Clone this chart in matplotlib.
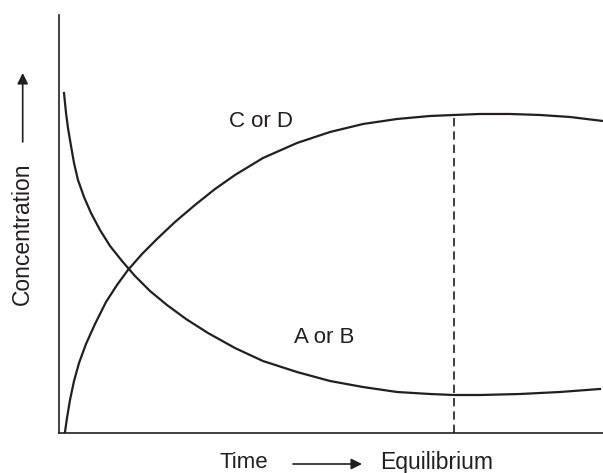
import numpy as np
import matplotlib
matplotlib.use("Agg")
import matplotlib.pyplot as plt

plt.rcParams['font.family'] = ['Liberation Sans', 'DejaVu Sans']

# curve points (time and concentration in % of the axes)
t_cd = [1.10, 1.47, 2.02, 2.76, 3.68, 4.96, 6.62, 8.64, 10.66, 12.68, 15.26, 18.01, 21.32,
        25.00, 28.68, 32.35, 37.50, 43.75, 49.82, 55.88, 62.13, 68.20, 72.61, 77.39, 82.90,
        88.42, 93.93, 100.0]
c_cd = [0.24, 3.59, 7.89, 12.44, 16.75, 21.29, 26.08, 31.34, 35.41, 39.00, 42.82, 46.41, 50.48,
        54.55, 58.37, 61.72, 65.79, 69.38, 72.01, 73.92, 75.12, 75.84, 76.08, 76.32, 76.32,
        76.08, 75.60, 74.64]

t_ab = [0.92, 1.29, 1.65, 2.21, 2.76, 3.49, 4.60, 5.88, 7.54, 9.38, 11.58, 13.97, 16.73, 19.85,
        23.35, 27.39, 32.35, 37.50, 43.75, 49.82, 55.88, 62.13, 68.20, 72.61, 77.39, 84.74,
        92.10, 99.45]
c_ab = [81.34, 76.56, 72.97, 68.66, 64.59, 60.53, 56.46, 52.63, 48.56, 44.74, 41.15, 37.56,
        33.97, 30.62, 27.27, 23.92, 20.33, 17.22, 14.59, 12.44, 11.00, 9.81, 9.33, 9.09, 9.09,
        9.33, 9.81, 10.53]

# equilibrium point
t_eq = 72.61
c_eq = 76.08

ink = '#231f20'

W, H = 603, 473
fig = plt.figure(figsize=(W / 100, H / 100), dpi=100)
ax = fig.add_axes([59 / W, (H - 433) / H, (W - 59) / W, (433 - 15) / H])
ax.set_xlim(0, 100)
ax.set_ylim(0, 100)

ax.plot(t_cd, c_cd, color=ink, lw=1.6, clip_on=False, solid_joinstyle='round')
ax.plot(t_ab, c_ab, color=ink, lw=1.6, clip_on=False, solid_joinstyle='round')
ax.plot([t_eq, t_eq], [0, c_eq], color=ink, lw=1.2, dashes=(5, 3))

ax.text(37.13, 74.52, 'C or D', ha='center', va='center', fontsize=16, color=ink)
ax.text(48.81, 22.73, 'A or B', ha='center', va='center', fontsize=16, color=ink)

for side in ['top', 'right']:
    ax.spines[side].set_visible(False)
for side in ['left', 'bottom']:
    ax.spines[side].set_color(ink)
    ax.spines[side].set_linewidth(1.2)
ax.set_xticks([])
ax.set_yticks([])

# outer labels with arrows
fig.text(22 / W, 1 - 234 / H, 'Concentration', rotation=90, ha='center', va='center',
         fontsize=16.5, color=ink)
fig.text(243.5 / W, 1 - 462 / H, 'Time', ha='center', va='center', fontsize=16, color=ink)
fig.text(436.5 / W, 1 - 462 / H, 'Equilibrium', ha='center', va='center', fontsize=16.5, color=ink)

arrow = dict(arrowstyle='-|>', color=ink, lw=1.2, mutation_scale=16, shrinkA=0, shrinkB=0)
ax.annotate('', xy=(22.7 / W, 1 - 73 / H), xytext=(22.7 / W, 1 - 142 / H),
            xycoords='figure fraction', textcoords='figure fraction', arrowprops=arrow,
            annotation_clip=False)
ax.annotate('', xy=(362 / W, 1 - 464 / H), xytext=(293 / W, 1 - 464 / H),
            xycoords='figure fraction', textcoords='figure fraction', arrowprops=arrow,
            annotation_clip=False)

fig.savefig('out.png', dpi=100, facecolor='white')
